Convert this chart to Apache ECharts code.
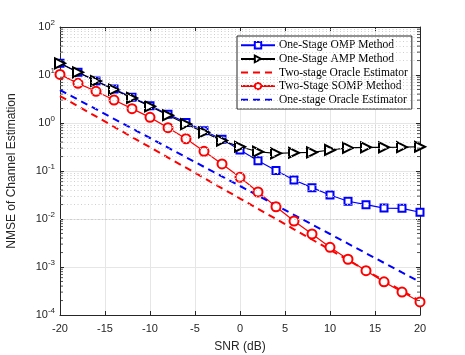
<!DOCTYPE html>
<html>
<head>
<meta charset="utf-8">
<script src="https://cdn.jsdelivr.net/npm/echarts@6/dist/echarts.min.js"></script>
<style>
  html, body { margin: 0; padding: 0; background: #fff; }
  #chart { width: 465px; height: 355px; }
</style>
</head>
<body>
<div id="chart"></div>
<script>
const snr = [-20, -18, -16, -14, -12, -10, -8, -6, -4, -2, 0, 2, 4, 6, 8, 10, 12, 14, 16, 18, 20];
const ompVals = [17.5, 11.4, 7.5, 5.1, 3.43, 2.3, 1.52, 1.03, 0.69, 0.46, 0.275,
  0.164, 0.102, 0.065, 0.045, 0.0316, 0.0234, 0.0199, 0.0169, 0.0167, 0.0138];
const ampVals = [17.5, 11.4, 7.5, 4.94, 3.32, 2.23, 1.45, 0.95, 0.64, 0.43, 0.32,
  0.252, 0.234, 0.24, 0.245, 0.274, 0.302, 0.312, 0.312, 0.313, 0.32];
const twoOracleVals = [3.65, 2.23, 1.37, 0.835, 0.51, 0.312, 0.191, 0.117, 0.0714, 0.0437, 0.0267,
  0.0163, 0.01, 0.0061, 0.00374, 0.00228, 0.0014, 0.00085, 0.00052, 0.00032, 0.000195];
const sompVals = [10.3, 6.7, 4.57, 3.01, 1.99, 1.31, 0.8, 0.47, 0.257, 0.14, 0.074,
  0.0365, 0.018, 0.00908, 0.00487, 0.00257, 0.00145, 0.00084, 0.00049, 0.0003, 0.000187];
const oneOracleVals = [4.87, 3.07, 1.94, 1.22, 0.77, 0.487, 0.307, 0.194, 0.122, 0.077, 0.0487,
  0.0307, 0.0194, 0.0122, 0.0077, 0.00487, 0.00307, 0.00194, 0.00122, 0.00077, 0.000487];
const seriesNames = ["One-Stage OMP Method", "One-Stage AMP Method", "Two-stage Oracle Estimator",
  "Two-Stage SOMP Method", "One-stage Oracle Estimator"];

// 对数轴次刻度 2..9 x 10^k
const yMinor = [];
for (let e = -4; e < 2; e++) {
  for (let m = 2; m <= 9; m++) yMinor.push(m * Math.pow(10, e));
}

const zip = (vals) => snr.map((x, i) => [x, vals[i]]);
const axisColor = "#262626";
const tickFont = { color: axisColor, fontSize: 11, fontFamily: "Liberation Sans, Arial, sans-serif" };

const chart = echarts.init(document.getElementById("chart"));

const options = {
  animation: false,
  backgroundColor: "#fff",
  grid: { left: 60, right: 45, top: 27, bottom: 40, outerBoundsMode: "none", containLabel: false },
  legend: {
    orient: "vertical",
    left: 237,
    top: 36,
    padding: [3, 4, 3, 3],
    itemGap: 1,
    itemWidth: 34,
    itemHeight: 8,
    backgroundColor: "#fff",
    borderColor: axisColor,
    borderWidth: 1,
    borderRadius: 0,
    data: seriesNames.map((n, i) =>
      i === 2 || i === 4 ? { name: n, itemStyle: { opacity: 0 } } : { name: n }
    ),
    textStyle: {
      color: "#000",
      fontSize: 11.5,
      lineHeight: 12.6,
      fontFamily: "Liberation Serif, Times New Roman, serif",
      padding: [0, 0, 0, -1],
    },
  },
  xAxis: [
    {
      type: "value",
      min: -20,
      max: 20,
      interval: 5,
      name: "SNR (dB)",
      nameLocation: "middle",
      nameGap: 26,
      nameTextStyle: { color: axisColor, fontSize: 12, fontFamily: "Liberation Sans, Arial, sans-serif" },
      axisLine: { show: true, onZero: false, lineStyle: { color: axisColor, width: 1 } },
      axisTick: { show: true, inside: true, length: 4, lineStyle: { color: axisColor } },
      axisLabel: { ...tickFont, margin: 8 },
      splitLine: { show: true, lineStyle: { color: "#e6e6e6", width: 1 } },
    },
    {
      type: "value",
      position: "top",
      min: -20,
      max: 20,
      interval: 5,
      axisLine: { show: true, onZero: false, lineStyle: { color: axisColor, width: 1 } },
      axisTick: { show: true, inside: true, length: 4, lineStyle: { color: axisColor } },
      axisLabel: { show: false },
      splitLine: { show: false },
    },
  ],
  yAxis: [
    {
      type: "log",
      logBase: 10,
      min: 1e-4,
      max: 1e2,
      name: "NMSE of Channel Estimation",
      nameLocation: "middle",
      nameGap: 42,
      nameTextStyle: { color: axisColor, fontSize: 12, fontFamily: "Liberation Sans, Arial, sans-serif" },
      axisLine: { show: true, onZero: false, lineStyle: { color: axisColor, width: 1 } },
      axisTick: { show: true, inside: true, length: 4, lineStyle: { color: axisColor } },
      axisLabel: {
        margin: 5,
        formatter: (v) => "{b|10}{s|" + Math.round(Math.log10(v)) + "}",
        rich: {
          b: { ...tickFont },
          s: { ...tickFont, fontSize: 8, padding: [0, 0, 8, 0] },
        },
      },
      splitLine: { show: true, lineStyle: { color: "#e6e6e6", width: 1 } },
    },
    {
      type: "log",
      logBase: 10,
      min: 1e-4,
      max: 1e2,
      position: "right",
      axisLine: { show: true, onZero: false, lineStyle: { color: axisColor, width: 1 } },
      axisTick: { show: true, inside: true, length: 4, lineStyle: { color: axisColor } },
      axisLabel: { show: false },
      splitLine: { show: false },
    },
  ],
  series: [
    // 次网格线
    {
      type: "line",
      data: [],
      silent: true,
      z: 1,
      markLine: {
        silent: true,
        symbol: "none",
        label: { show: false },
        animation: false,
        lineStyle: { color: "#cfcfcf", width: 1, type: [1, 2.5] },
        data: yMinor.map((v) => ({ yAxis: v })),
      },
    },
    // 次刻度 左/右
    {
      type: "scatter",
      silent: true,
      z: 5,
      symbol: "rect",
      symbolSize: [3, 1],
      symbolOffset: [1.5, 0],
      itemStyle: { color: axisColor },
      data: yMinor.map((v) => [-20, v]),
    },
    {
      type: "scatter",
      silent: true,
      z: 5,
      symbol: "rect",
      symbolSize: [3, 1],
      symbolOffset: [-1.5, 0],
      itemStyle: { color: axisColor },
      data: yMinor.map((v) => [20, v]),
    },
    {
      name: seriesNames[0],
      type: "line",
      z: 3,
      data: zip(ompVals),
      symbol: "emptyRect",
      symbolSize: 7,
      itemStyle: { color: "#0000ff", borderWidth: 1.2 },
      lineStyle: { color: "#0000ff", width: 1.2 },
    },
    {
      name: seriesNames[1],
      type: "line",
      z: 3,
      data: zip(ampVals),
      symbol: "emptyTriangle",
      symbolRotate: -90,
      symbolSize: 10,
      itemStyle: { color: "#000", borderWidth: 1.2 },
      lineStyle: { color: "#000", width: 1.2 },
    },
    {
      name: seriesNames[2],
      type: "line",
      z: 3,
      data: zip(twoOracleVals),
      symbol: "none",
      itemStyle: { color: "#ff0000" },
      lineStyle: { color: "#ff0000", width: 2, type: [7, 5] },
    },
    {
      name: seriesNames[3],
      type: "line",
      z: 3,
      data: zip(sompVals),
      symbol: "emptyCircle",
      symbolSize: 9,
      itemStyle: { color: "#ff0000", borderWidth: 1.2 },
      lineStyle: { color: "#ff0000", width: 1.2 },
    },
    {
      name: seriesNames[4],
      type: "line",
      z: 3,
      data: zip(oneOracleVals),
      symbol: "none",
      itemStyle: { color: "#0000ff" },
      lineStyle: { color: "#0000ff", width: 2, type: [7, 5] },
    },
  ],
};

chart.setOption(options);

window.addEventListener("resize", () => {
  chart.resize();
});
</script>
</body>
</html>
